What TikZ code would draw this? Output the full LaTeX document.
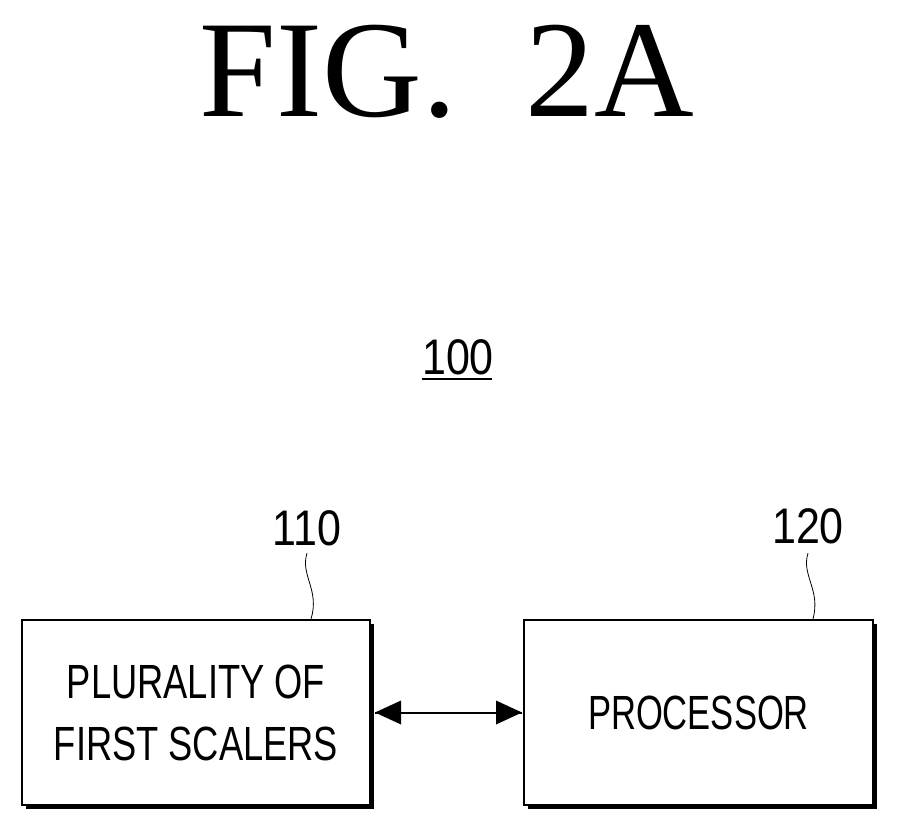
\documentclass[tikz,border=0pt]{standalone}
\usepackage{fontspec}
\setmainfont{Liberation Serif}
\newfontfamily\lab{Liberation Sans}
\begin{document}
\begin{tikzpicture}[x=1pt,y=-1pt,
  blk/.style={draw,line width=2pt,minimum width=348pt,minimum height=185pt,fill=white,inner sep=0pt},
  shd/.style={fill=black},
  lbl/.style={font=\lab\fontsize{48}{58}\selectfont,xscale=0.72},
  ref/.style={font=\lab\fontsize{50}{50}\selectfont,xscale=0.86}]
\useasboundingbox (0,0) rectangle (898,831);
\node[font=\fontsize{138}{138}\selectfont,xscale=1.0] (title) at (447,72) {FIG.\ \ 2A};
\fill[shd] (26,624) rectangle (374,809);
\node[blk,anchor=north west] (b1) at (21,619) {};
\fill[shd] (528,624) rectangle (877,809);
\node[blk,anchor=north west,minimum width=349pt] (b2) at (523,619) {};
\node[lbl,xscale=1.05,align=center] at (b1.center) {PLURALITY OF\\[4pt]FIRST SCALERS};
\node[lbl] at (b2.center) {PROCESSOR};
\node[ref] (r100) at (458,357) {100};
\draw[line width=1.5pt] (422,379) -- (492,379);
\node[ref] (r110) at (307,528) {110};
\node[ref] (r120) at (808,526) {120};
\draw[line width=0.8pt] (r110.south) ++(0,4) coordinate (a1) .. controls (300,575) and (320,590) .. (b1.north -| 311,0);
\draw[line width=0.8pt] (r120.south) ++(0,6) coordinate (a2) .. controls (801,575) and (821,590) .. (b2.north -| 813,0);
\coordinate (p1) at ([xshift=4pt]b1.east);
\coordinate (p2) at ([xshift=-1pt]b2.west);
\draw[line width=2pt] (p1) -- (p2);
\fill (p1) -- ++(26,-12) -- ++(0,24) -- cycle;
\fill (p2) -- ++(-26,-12) -- ++(0,24) -- cycle;
\end{tikzpicture}
\end{document}
